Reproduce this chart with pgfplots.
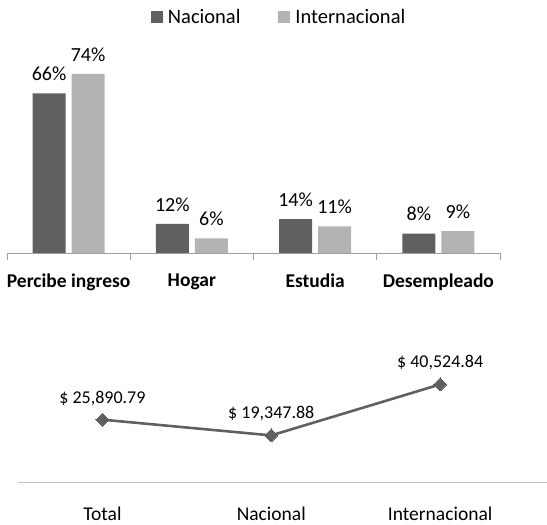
\documentclass[border=0pt]{standalone}
\usepackage{pgfplots}
\pgfplotsset{compat=1.18}
\usepackage{fontspec}
\setmainfont{Carlito}
\definecolor{darkbar}{HTML}{606060}
\definecolor{lightbar}{HTML}{B3B3B3}
\definecolor{axisgray}{HTML}{A0A0A0}
\definecolor{linegray}{HTML}{C0C0C0}
\begin{document}
\begin{tikzpicture}
\path[use as bounding box] (0pt,0pt) rectangle (547pt,525pt);
% ---------- Top bar chart ----------
\begin{axis}[
  at={(7pt,272pt)}, anchor=south west,
  scale only axis, width=493pt, height=193.6pt,
  xmin=-0.5, xmax=3.5, ymin=0, ymax=80,
  axis y line=none, axis x line*=bottom,
  x axis line style={draw=axisgray, thick, -},
  xtick={0,1,2,3},
  xticklabels={Percibe ingreso,Hogar,Estudia,Desempleado},
  xticklabel style={font=\fontsize{19.5}{22}\selectfont\bfseries, yshift=-17pt},
  major tick length=0pt,
  extra x ticks={-0.5,0.5,1.5,2.5,3.5},
  extra x tick labels={},
  extra x tick style={major tick length=7pt, tick align=outside, tick style={draw=axisgray, thick}},
  ybar, bar width=33pt,
  enlarge x limits=false,
  nodes near coords={\pgfmathprintnumber[assume math mode=true]{\pgfplotspointmeta}\%},
  every node near coord/.append style={font=\fontsize{20}{24}\selectfont, text=black, yshift=9pt},
  legend columns=2,
  legend style={draw=none, at={(0.552,1.22)}, anchor=center, font=\fontsize{20.5}{24}\selectfont,
    /tikz/every even column/.append style={column sep=36pt}},
  legend image code/.code={\fill[#1] (0pt,-6pt) rectangle (12pt,6pt); \path (0pt,0pt) -- (15pt,0pt);},
]
\addplot[fill=darkbar, draw=none, bar shift=-19.5pt] coordinates {(0,66) (1,12) (2,14) (3,8)};
\addplot[fill=lightbar, draw=none, bar shift=19.5pt] coordinates {(0,74) (1,6) (2,11) (3,9)};
\legend{Nacional,Internacional}
\end{axis}
% ---------- Bottom line chart ----------
\begin{axis}[
  at={(18pt,43pt)}, anchor=south west,
  scale only axis, width=529pt, height=120.4pt,
  xmin=-0.5, xmax=2.633, ymin=0, ymax=50000,
  axis y line=none, axis x line*=bottom,
  x axis line style={draw=linegray, thick, -},
  xtick={0,1,2},
  xticklabels={Total,Nacional,Internacional},
  xticklabel style={font=\fontsize{19.5}{22}\selectfont, yshift=-21pt},
  major tick length=0pt,
  point meta=explicit symbolic,
  nodes near coords,
  every node near coord/.append style={font=\fontsize{18}{22}\selectfont, text=black, anchor=south, yshift=11pt},
]
\addplot[draw=darkbar, line width=2.6pt, mark=square*, mark size=4.6pt,
  mark options={rotate=45, fill=darkbar, draw=darkbar, line width=0pt}]
  coordinates {(0,25890.79) [\$ 25,890.79] (1,19347.88) [\$ 19,347.88] (2,40524.84) [\$ 40,524.84]};
\end{axis}
\end{tikzpicture}
\end{document}
